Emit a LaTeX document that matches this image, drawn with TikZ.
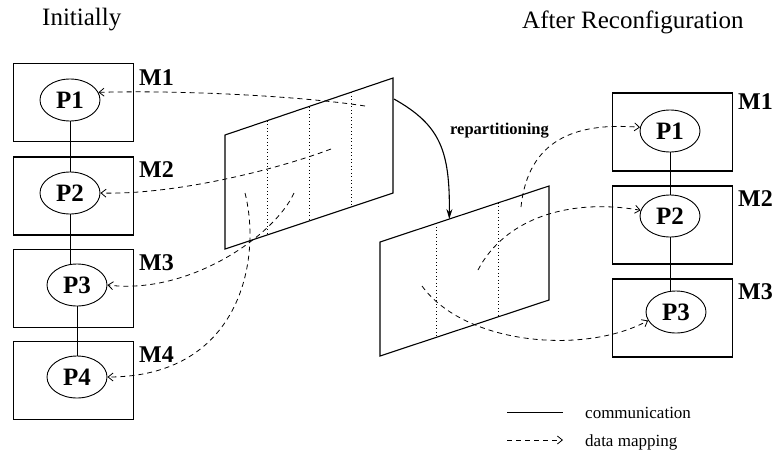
\documentclass[tikz,border=0pt]{standalone}
\usepackage{fontspec}
\setmainfont{Liberation Serif}
\usetikzlibrary{shapes.geometric,arrows.meta,calc}
\begin{document}
\begin{tikzpicture}[x=1pt,y=-1pt,
  mbox/.style={draw,line width=1.2pt,rectangle,minimum width=120pt,minimum height=78pt,inner sep=0pt},
  proc/.style={draw,line width=0.9pt,ellipse,minimum width=60pt,minimum height=42pt,inner sep=0pt,font=\fontsize{25}{25}\selectfont\bfseries},
  mlabel/.style={anchor=west,inner sep=0pt,font=\fontsize{24}{24}\selectfont\bfseries},
  title/.style={anchor=base west,inner sep=0pt,font=\fontsize{25}{25}\selectfont},
  small/.style={anchor=base west,inner sep=0pt,font=\fontsize{17}{17}\selectfont},
  comm/.style={line width=0.9pt},
  panel/.style={line width=1.1pt,line join=miter},
  dotl/.style={line width=0.8pt,dash pattern=on 1pt off 2.5pt},
  dmap/.style={line width=0.8pt,dash pattern=on 5pt off 4pt,-{Straight Barb[length=5pt,width=8pt]}},
  repart/.style={line width=1.1pt,-{Stealth[length=10pt,width=6pt]}}
]
\useasboundingbox (0,0) rectangle (778,450);

% titles
\node[title] (t1) at (42,25) {Initially};
\node[title] (t2) at (522,28) {After Reconfiguration};

% left machines
\node[mbox] (m1) at (73.5,102.5) {};
\node[mbox] (m2) at (73.5,196) {};
\node[mbox] (m3) at (73.5,288.5) {};
\node[mbox] (m4) at (73.5,380.5) {};
\node[proc] (p1) at (70,100) {P1};
\node[proc] (p2) at (70,193) {P2};
\node[proc] (p3) at (77,285) {P3};
\node[proc] (p4) at (77,377) {P4};
\node[mlabel] (lm1) at (139,78) {M1};
\node[mlabel] (lm2) at (139,170) {M2};
\node[mlabel] (lm3) at (139,263) {M3};
\node[mlabel] (lm4) at (139,355) {M4};
\draw[comm] (p1) -- (p2);
\draw[comm] (p2.south) -- (p2.south |- p3.north);
\draw[comm] (p3) -- (p4);

% right machines
\node[mbox] (n1) at (672.5,132) {};
\node[mbox] (n2) at (672.5,225) {};
\node[mbox] (n3) at (672.5,318) {};
\node[proc] (q1) at (670,131) {P1};
\node[proc] (q2) at (670,216) {P2};
\node[proc] (q3) at (676,312) {P3};
\node[mlabel] (ln1) at (738,102) {M1};
\node[mlabel] (ln2) at (738,199) {M2};
\node[mlabel] (ln3) at (738,292) {M3};
\draw[comm] (q1) -- (q2);
\draw[comm] (q2.south) -- (q2.south |- q3.north);

% left data panel
\coordinate (a1) at (225,135);
\coordinate (a2) at (393,78);
\coordinate (a3) at (393,193);
\coordinate (a4) at (225,249);
\draw[panel] (a1) -- (a2) -- (a3) -- (a4) -- cycle;
\foreach \f in {0.25,0.5,0.75}
  \draw[dotl] ($(a1)!\f!(a2)$) -- ($(a4)!\f!(a3)$);

% right data panel
\coordinate (b1) at (380,242);
\coordinate (b2) at (549,186);
\coordinate (b3) at (549,300);
\coordinate (b4) at (380,356);
\draw[panel] (b1) -- (b2) -- (b3) -- (b4) -- cycle;
\foreach \f in {0.333,0.7}
  \draw[dotl] ($(b1)!\f!(b2)$) -- ($(b4)!\f!(b3)$);

% data mapping, initial
\coordinate (s1) at (365,106);
\coordinate (s2) at (331,149);
\coordinate (s3) at (294,193);
\coordinate (s4) at (245,193);
\draw[dmap] (s1) .. controls (300,96) and (180,90) .. (p1.15);
\draw[dmap] (s2) .. controls (270,172) and (170,195) .. (p2.east);
\draw[dmap] (s3) .. controls (275,235) and (190,295) .. (p3.east);
\draw[dmap] (s4) .. controls (262,260) and (240,377) .. (p4.east);

% repartitioning
\coordinate (rs) at (394,99);
\coordinate (re) at ($(b1)!0.41!(b2)$);
\draw[repart] (rs) .. controls (440,125) and (450,150) .. (re);
\node[anchor=base west,inner sep=0pt,font=\fontsize{16.5}{16.5}\selectfont\bfseries] (rl) at (450,134) {repartitioning};

% data mapping, after
\coordinate (r1) at (521,207);
\coordinate (r2) at (478,270);
\coordinate (r3) at (422,286);
\draw[dmap] (r1) .. controls (528,140) and (575,122) .. (q1.173);
\draw[dmap] (r2) .. controls (505,218) and (570,198) .. (q2.169);
\draw[dmap] (r3) .. controls (465,345) and (585,355) .. (q3.197);

% legend
\coordinate (l1) at (507,412);
\coordinate (l2) at (563,412);
\coordinate (l3) at (507,440);
\coordinate (l4) at (563,440);
\draw[comm] (l1) -- (l2);
\draw[dmap] (l3) -- (l4);
\node[small] (lt1) at (585,418) {communication};
\node[small] (lt2) at (585,446) {data mapping};
\end{tikzpicture}
\end{document}
